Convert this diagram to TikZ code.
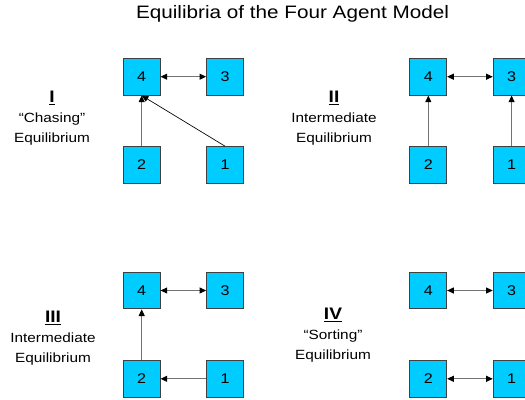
\documentclass[tikz,border=0pt]{standalone}
\usepackage{fontspec}
\setmainfont[FakeStretch=1.15]{Liberation Sans}
\usepackage{xcolor}
\usetikzlibrary{arrows.meta}
\definecolor{agentblue}{HTML}{00CCFF}
\definecolor{agentedge}{HTML}{404040}
\newcommand{\eqnum}[1]{{\fontsize{12.5}{15}\selectfont\bfseries\underline{#1}}}

\begin{document}
\begin{tikzpicture}[x=0.75pt, y=-0.75pt,
    agent/.style={draw=agentedge, line width=0.75pt, fill=agentblue,
        minimum size=27.5pt, inner sep=0pt, font=\fontsize{10.5}{12}\selectfont},
    link/.style={draw=black!55, line width=0.75pt},
    tag/.style={align=center, font=\fontsize{10}{15}\selectfont},
    >={Triangle[length=5pt, width=4.5pt, color=black]}]
    \clip (0,0) rectangle (525,400);
    \useasboundingbox (0,0) rectangle (525,400);

    % Title
    \node[font=\fontsize{13.5}{16}\selectfont] (title) at (292.5, 14) {Equilibria of the Four Agent Model};

    % Agents, one block of four per equilibrium
    \foreach \p/\x/\y in {a/141.7/76.7, b/428.3/76.7, c/141.7/290.5, d/428.3/290.5} {
        \node[agent] (\p4) at (\x, \y) {4};
        \node[agent] (\p3) at (\x+83.3, \y) {3};
        \node[agent] (\p2) at (\x, \y+88.3) {2};
        \node[agent] (\p1) at (\x+83.3, \y+88.3) {1};
        \draw[link, <->] (\p4) -- (\p3);
    }

    % Labels
    \node[tag] (tagI) at (52, 118) {\eqnum{I}\\“Chasing”\\Equilibrium};
    \node[tag] (tagII) at (334, 118) {\eqnum{II}\\Intermediate\\Equilibrium};
    \node[tag] (tagIII) at (53, 338) {\eqnum{III}\\Intermediate\\Equilibrium};
    \node[tag] (tagIV) at (333, 335) {\eqnum{IV}\\“Sorting”\\Equilibrium};

    % I -- chasing
    \draw[link, ->] (a2) -- (a4);
    \draw[->, black, line width=0.5pt] (a1.north) -- (a4.south);

    % II -- intermediate
    \draw[link, ->] (b2) -- (b4);
    \draw[link, ->] (b1) -- (b3);

    % III -- intermediate
    \draw[link, ->] (c2) -- (c4);
    \draw[link, ->] (c1) -- (c2);

    % IV -- sorting
    \draw[link, <->] (d2) -- (d1);
\end{tikzpicture}
\end{document}
